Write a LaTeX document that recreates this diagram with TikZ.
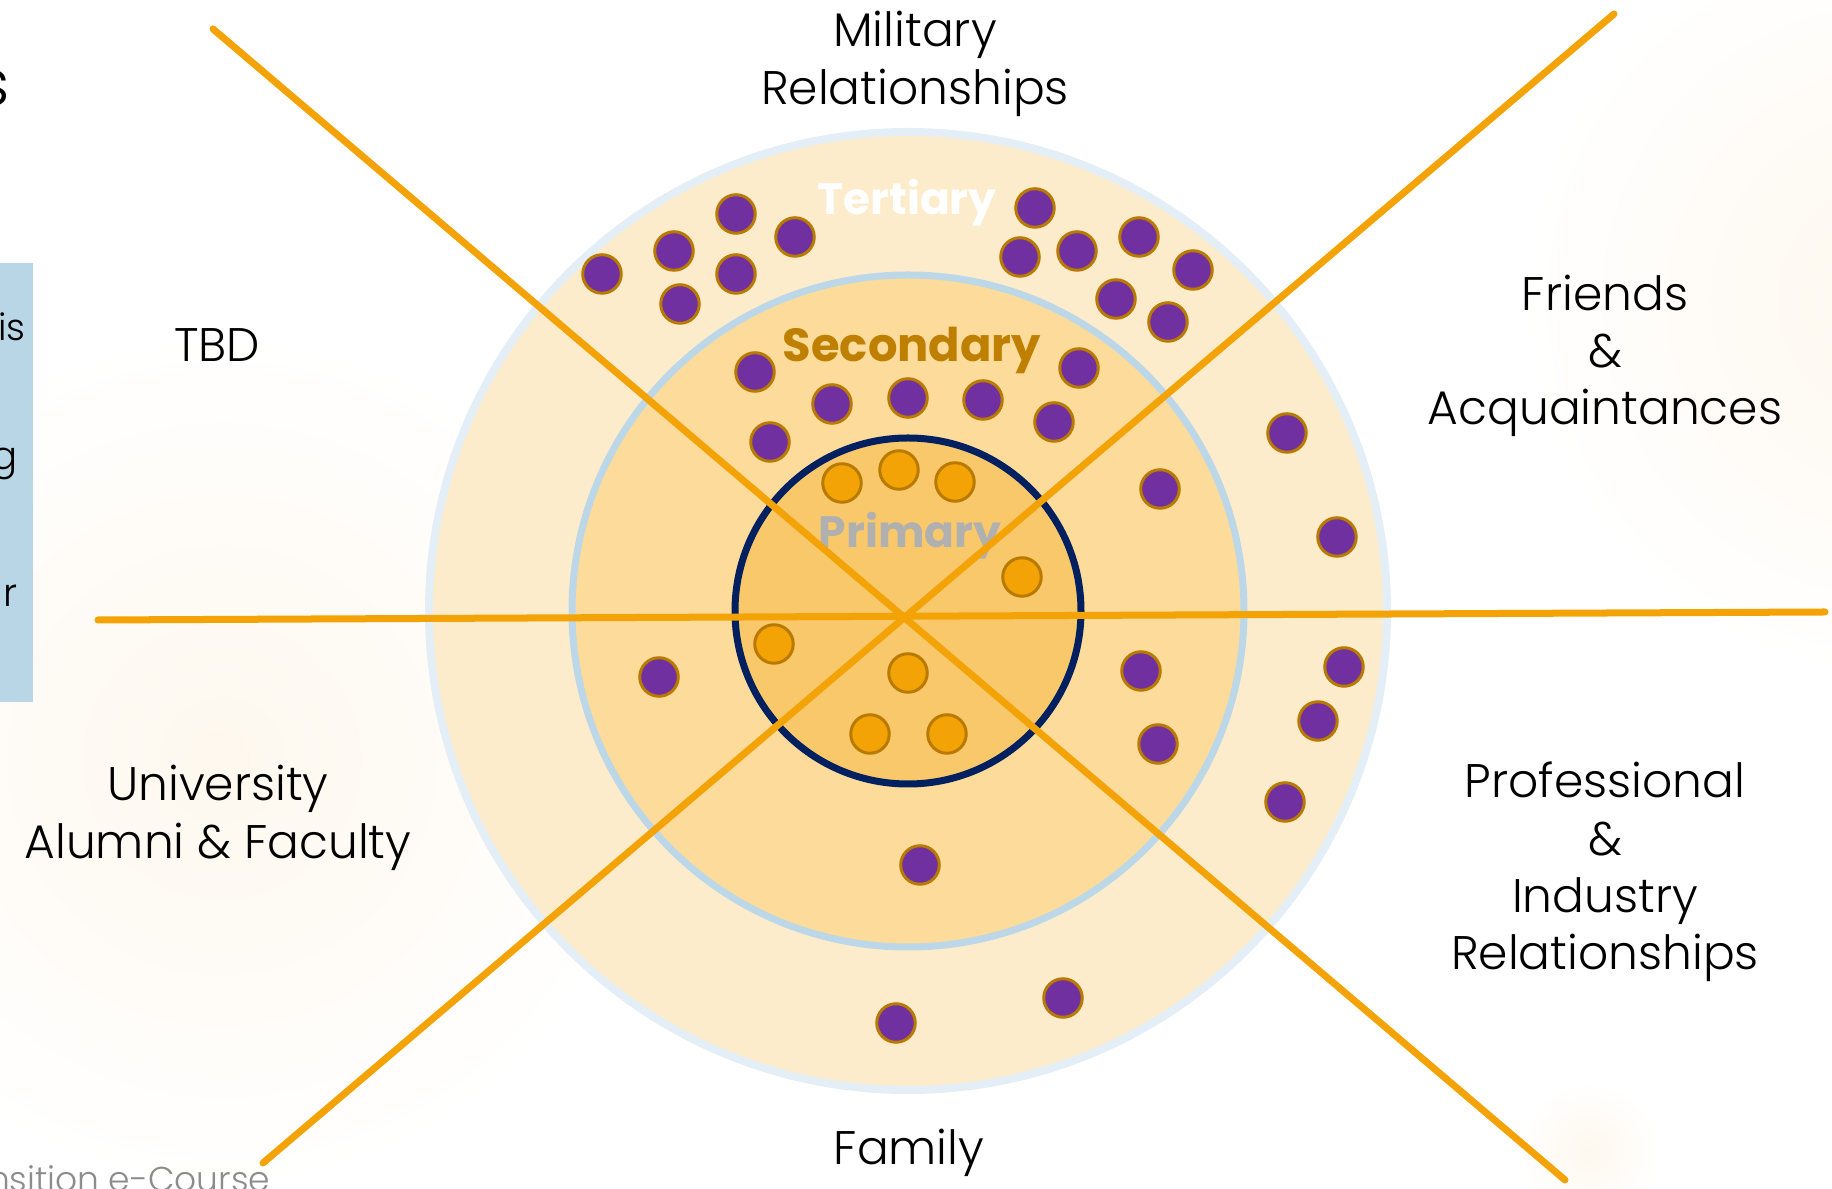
\documentclass[tikz,border=0pt]{standalone}
\usepackage{fontspec}
\setmainfont{Poppins}
\newfontfamily\thinfont{Poppins Light}
\usepackage{xcolor}

\definecolor{tertfill}{HTML}{FDECCB}
\definecolor{tertline}{HTML}{E4EEF6}
\definecolor{secfill}{HTML}{FDDB9A}
\definecolor{secline}{HTML}{BCD8E8}
\definecolor{primfill}{HTML}{F9C86A}
\definecolor{primline}{HTML}{002060}
\definecolor{lineorange}{HTML}{F3A305}
\definecolor{dotpurple}{HTML}{7030A0}
\definecolor{dotorange}{HTML}{F3A305}
\definecolor{dotrim}{HTML}{B87A00}
\definecolor{seclabel}{HTML}{BF7F00}
\definecolor{primlabel}{HTML}{B0B0B0}
\definecolor{glow}{HTML}{FEF8EE}
\definecolor{sidebox}{HTML}{B9D6E6}
\definecolor{footgray}{HTML}{8C8C8C}

\begin{document}
\begin{tikzpicture}[x=0.01cm, y=-0.01cm,
  contact/.style={circle, draw=dotrim, line width=0.85pt, minimum size=0.385cm, inner sep=0pt},
  pdot/.style={contact, fill=dotpurple},
  odot/.style={contact, fill=dotorange},
  ringlabel/.style={font=\fontsize{12.5}{15}\selectfont\bfseries},
  sector/.style={font=\thinfont\fontsize{13.4}{16.3}\selectfont, align=center, text=black},
  spoke/.style={draw=lineorange, line width=0.07cm, line cap=round}]
  \useasboundingbox (0,0) rectangle (1832,1189);
  \clip (0,0) rectangle (1832,1189);
  % Background glow
  \shade[inner color=glow, outer color=white] (222,760) circle (430);
  \shade[inner color=glow, outer color=white] (1900,300) circle (380);
  \shade[inner color=glow, outer color=white] (1589,1151) circle (70);
  % Rings
  \coordinate (c) at (908,611);
  \draw[draw=tertline, fill=tertfill, line width=0.08cm] (c) circle (479);
  \draw[draw=secline, fill=secfill, line width=0.07cm] (c) circle (336);
  \draw[draw=primline, fill=primfill, line width=0.07cm] (c) circle (173);
  % Ring labels
  \node[ringlabel, text=white] (tert) at (907,203) {Tertiary};
  \node[ringlabel, text=seclabel, font=\fontsize{13.2}{15}\selectfont\bfseries] (sec) at (912,350) {Secondary};
  \node[ringlabel, text=primlabel] (prim) at (910,536) {Primary};
  % Spokes
  \coordinate (nw) at (213,29);
  \coordinate (se) at (1565,1180);
  \coordinate (ne) at (1614,14);
  \coordinate (sw) at (263,1163);
  \coordinate (w) at (98,620);
  \coordinate (e) at (1825,612);
  \draw[spoke] (nw) -- (se);
  \draw[spoke] (sw) -- (ne);
  \draw[spoke] (w) -- (e);
  % Primary contacts
  \foreach \x/\y [count=\i] in {842/483, 899/470, 955/482, 1022/577,
      774/644, 908/673, 870/734, 947/734} {
    \node[odot] (o\i) at (\x,\y) {};
  }
  % Secondary contacts
  \foreach \x/\y [count=\i] in {755/372, 832/404, 908/398, 983/400,
      1054/422, 1079/368, 770/442, 1160/489, 1141/671, 1158/744,
      659/677, 920/865} {
    \node[pdot] (s\i) at (\x,\y) {};
  }
  % Tertiary contacts
  \foreach \x/\y [count=\i] in {602/274, 674/251, 736/214, 795/237,
      736/274, 680/304, 1035/208, 1020/257, 1077/251, 1139/237,
      1193/270, 1116/299, 1168/322, 1287/433, 1337/537, 1344/667,
      1318/721, 1285/802, 896/1023, 1063/998} {
    \node[pdot] (t\i) at (\x,\y) {};
  }
  % Sector labels
  \node[sector] (military) at (915,64) {Military\\Relationships};
  \node[sector] (friends) at (1605,356) {Friends\\\&\\Acquaintances};
  \node[sector] (professional) at (1605,872) {Professional\\\&\\Industry\\Relationships};
  \node[sector] (family) at (909,1153) {Family};
  \node[sector] (university) at (218,818) {University\\Alumni \& Faculty};
  \node[sector] (tbd) at (217,345) {TBD};
  % Cut-off slide parts
  \fill[sidebox] (0,263) rectangle (33,702);
  \node[anchor=east, inner sep=0pt, font=\thinfont\fontsize{18}{20}\selectfont] (title) at (10,88) {s};
  \node[anchor=east, inner sep=0pt, font=\thinfont\fontsize{10.5}{13}\selectfont] (frag1) at (26,327) {is};
  \node[anchor=east, inner sep=0pt, font=\thinfont\fontsize{11}{13}\selectfont] (frag2) at (18,464) {g};
  \node[anchor=east, inner sep=0pt, font=\thinfont\fontsize{11}{13}\selectfont] (frag3) at (18,596) {ur};
  \node[anchor=base east, inner sep=0pt, text=footgray, font=\thinfont\fontsize{9.8}{12}\selectfont] (footer) at (271,1192) {nsition e-Course};
\end{tikzpicture}
\end{document}
